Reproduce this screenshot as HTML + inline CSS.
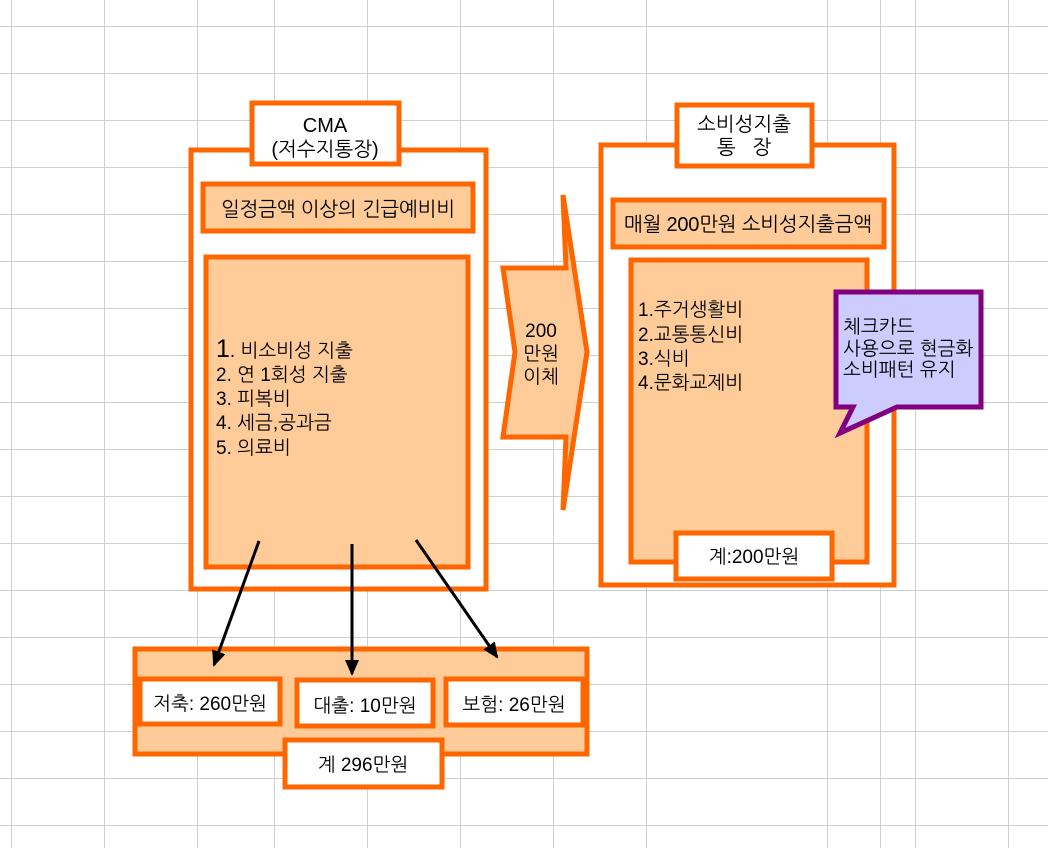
<!DOCTYPE html>
<html><head><meta charset="utf-8"><style>
html,body{margin:0;padding:0;background:#fff;}
svg{display:block;}
text{font-family:"Liberation Sans","NanumGothic","Noto Sans CJK KR",sans-serif;fill:#000;}
</style></head><body>
<svg width="1048" height="848" viewBox="0 0 1048 848" xmlns="http://www.w3.org/2000/svg">
<defs>
<marker id="ah" markerWidth="16" markerHeight="14" refX="14" refY="7" orient="auto" markerUnits="userSpaceOnUse"><path d="M0,0 L16,7 L0,14 z"/></marker>
</defs>
<g stroke="#cfcfcf" stroke-width="1">
<line x1="11.5" y1="0" x2="11.5" y2="848"/><line x1="104.5" y1="0" x2="104.5" y2="848"/><line x1="197.5" y1="0" x2="197.5" y2="848"/><line x1="274.5" y1="0" x2="274.5" y2="848"/><line x1="367.5" y1="0" x2="367.5" y2="848"/><line x1="460.5" y1="0" x2="460.5" y2="848"/><line x1="553.5" y1="0" x2="553.5" y2="848"/><line x1="646.5" y1="0" x2="646.5" y2="848"/><line x1="827.5" y1="0" x2="827.5" y2="848"/><line x1="880.5" y1="0" x2="880.5" y2="848"/><line x1="915.5" y1="0" x2="915.5" y2="848"/><line x1="1008.5" y1="0" x2="1008.5" y2="848"/>
<line x1="0" y1="26.5" x2="1048" y2="26.5"/><line x1="0" y1="73.5" x2="1048" y2="73.5"/><line x1="0" y1="120.5" x2="1048" y2="120.5"/><line x1="0" y1="167.5" x2="1048" y2="167.5"/><line x1="0" y1="214.5" x2="1048" y2="214.5"/><line x1="0" y1="261.5" x2="1048" y2="261.5"/><line x1="0" y1="308.5" x2="1048" y2="308.5"/><line x1="0" y1="355.5" x2="1048" y2="355.5"/><line x1="0" y1="402.5" x2="1048" y2="402.5"/><line x1="0" y1="449.5" x2="1048" y2="449.5"/><line x1="0" y1="496.5" x2="1048" y2="496.5"/><line x1="0" y1="543.5" x2="1048" y2="543.5"/><line x1="0" y1="590.5" x2="1048" y2="590.5"/><line x1="0" y1="637.5" x2="1048" y2="637.5"/><line x1="0" y1="684.5" x2="1048" y2="684.5"/><line x1="0" y1="731.5" x2="1048" y2="731.5"/><line x1="0" y1="778.5" x2="1048" y2="778.5"/><line x1="0" y1="825.5" x2="1048" y2="825.5"/>
</g>
<g stroke="#FF6600" stroke-width="5">
<rect x="191" y="150" width="295" height="439" fill="#fff"/>
<rect x="252" y="103" width="147" height="61" fill="#fff"/>
<rect x="203" y="184" width="270" height="47" fill="#FFCC99"/>
<rect x="206" y="257" width="262" height="310" fill="#FFCC99"/>
<polygon points="503,268 566,268 563,195 587,352 563,510 566,437 503,437 515,352" fill="#FFCC99"/>
<rect x="601" y="145" width="293" height="440" fill="#fff"/>
<rect x="677" y="105" width="135" height="61" fill="#fff"/>
<rect x="613" y="200" width="271" height="47" fill="#FFCC99"/>
<rect x="631" y="260" width="236" height="302" fill="#FFCC99"/>
<rect x="676" y="533" width="156" height="46" fill="#fff"/>
<rect x="135" y="649" width="452" height="105" fill="#FFCC99"/>
<rect x="140" y="679" width="140" height="45" fill="#fff"/>
<rect x="297" y="680" width="136" height="46" fill="#fff"/>
<rect x="446" y="679" width="137" height="46" fill="#fff"/>
<rect x="285" y="740" width="157" height="47" fill="#fff"/>
</g>
<path d="M836,292 L981,292 L981,407 L897,407 L840,433 L853,407 L836,407 Z" fill="#CCCCFF" stroke="#800080" stroke-width="5"/>
<g stroke="#000" stroke-width="3" marker-end="url(#ah)">
<line x1="259" y1="541" x2="214" y2="665"/>
<line x1="352" y1="544" x2="352" y2="674"/>
<line x1="416" y1="540" x2="497" y2="657"/>
</g>
<g font-size="19">
<text x="325" y="132" text-anchor="middle" font-size="20">CMA</text>
<text x="325" y="156" text-anchor="middle" font-size="20">(저수지통장)</text>
<text x="338" y="216" text-anchor="middle" font-size="20" textLength="234">일정금액 이상의 긴급예비비</text>
<text x="216" y="357"><tspan font-size="25">1</tspan>. 비소비성 지출</text>
<text x="216" y="381">2. 연 1회성 지출</text>
<text x="216" y="405">3. 피복비</text>
<text x="216" y="429">4. 세금,공과금</text>
<text x="216" y="454">5. 의료비</text>
<text x="541" y="337" text-anchor="middle">200</text>
<text x="541" y="360" text-anchor="middle">만원</text>
<text x="541" y="383" text-anchor="middle">이체</text>
<text x="744" y="131" text-anchor="middle" font-size="20">소비성지출</text>
<text x="744" y="154" text-anchor="middle" font-size="20">통&#160;&#160;&#160;장</text>
<text x="748" y="231" text-anchor="middle" font-size="20" textLength="248">매월 200만원 소비성지출금액</text>
<text x="638" y="316">1.주거생활비</text>
<text x="638" y="341">2.교통통신비</text>
<text x="638" y="365">3.식비</text>
<text x="638" y="389">4.문화교제비</text>
<text x="754" y="563" text-anchor="middle">계:200만원</text>
<text x="843" y="333">체크카드</text>
<text x="843" y="355">사용으로 현금화</text>
<text x="843" y="376">소비패턴 유지</text>
<text x="210" y="710" text-anchor="middle">저축: 260만원</text>
<text x="365" y="712" text-anchor="middle">대출: 10만원</text>
<text x="514" y="711" text-anchor="middle">보험: 26만원</text>
<text x="363" y="771" text-anchor="middle">계 296만원</text>
</g>
</svg>
</body></html>
